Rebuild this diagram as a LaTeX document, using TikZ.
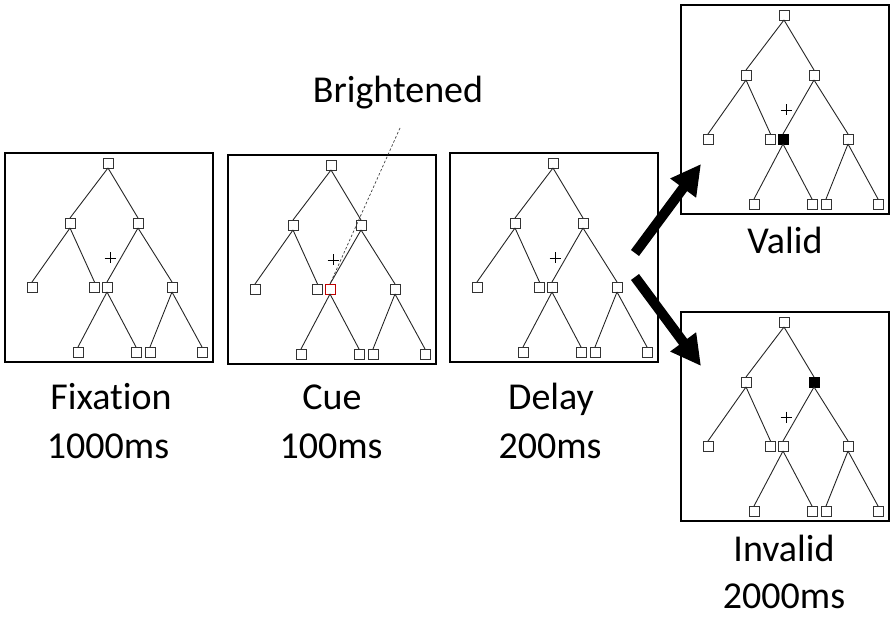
\documentclass[tikz,border=0pt]{standalone}
\usepackage{fontspec}
\setmainfont{Carlito}[Ligatures=NoCommon]
\usetikzlibrary{arrows.meta}
\tikzset{
  sq/.style={draw=black!80, line width=0.9pt, fill=white, minimum size=10pt, inner sep=0pt, outer sep=0pt},
  sqcue/.style={sq, draw=red!75!black, line width=1pt},
  sqfill/.style={sq, fill=black, draw=black},
  edge/.style={draw=black!85, line width=0.9pt},
  panel/.style={draw=black, line width=1.3pt},
  lbl/.style={anchor=base, font=\fontsize{38}{44}\selectfont, inner sep=0pt},
  bigarrow/.style={line width=10pt, -{Triangle[length=30pt,width=30pt]}},
}
\newcommand\treepanel[5]{%
  \begin{scope}[shift={(#2,#3)}]
    \draw[panel] (0,0) rectangle (208,209);
    \node[sq] (#1-r) at (103,10) {};
    \node[sq] (#1-a) at (65,70) {};
    \node[#4] (#1-b) at (133,70) {};
    \node[sq] (#1-c) at (27,134) {};
    \node[sq] (#1-d) at (89.5,134) {};
    \node[#5] (#1-e) at (102,134) {};
    \node[sq] (#1-f) at (167,134) {};
    \node[sq] (#1-g) at (73,199) {};
    \node[sq] (#1-h) at (131,199) {};
    \node[sq] (#1-i) at (145,199) {};
    \node[sq] (#1-j) at (197,199) {};
    \draw[edge] (#1-r.south) -- (#1-a.north);
    \draw[edge] (#1-r.south) -- (#1-b.north);
    \draw[edge] (#1-a.south) -- (#1-c.north);
    \draw[edge] (#1-a.south) -- (#1-d.north);
    \draw[edge] (#1-b.south) -- (#1-e.north);
    \draw[edge] (#1-b.south) -- (#1-f.north);
    \draw[edge] (#1-e.south) -- (#1-g.north);
    \draw[edge] (#1-e.south) -- (#1-h.north);
    \draw[edge] (#1-f.south) -- (#1-i.north);
    \draw[edge] (#1-f.south) -- (#1-j.north);
    \draw[line width=0.8pt] (99.5,105) -- (110.5,105) (105,99.5) -- (105,110.5);
  \end{scope}}
\begin{document}
\begin{tikzpicture}[x=1pt, y=-1pt]
  \useasboundingbox (0,0) rectangle (890,617);
  \treepanel{p1}{5}{153}{sq}{sq}
  \treepanel{p2}{228}{155}{sq}{sqcue}
  \treepanel{p3}{450}{153}{sq}{sq}
  \treepanel{p4}{681}{5}{sq}{sqfill}
  \treepanel{p5}{681}{312}{sqfill}{sq}
  % labels
  \node[lbl] (fix) at (111,409) {Fixation};
  \node[lbl] (fixt) at (108,458) {1000ms};
  \node[lbl] (cue) at (332,409) {Cue};
  \node[lbl] (cuet) at (331,458) {100ms};
  \node[lbl] (del) at (551,409) {Delay};
  \node[lbl] (delt) at (550,458) {200ms};
  \node[lbl] (val) at (785,254) {Valid};
  \node[lbl] (inv) at (784,561) {Invalid};
  \node[lbl] (invt) at (784,608) {2000ms};
  \node[lbl] (bri) at (398,103) {Brightened};
  % dashed pointer
  \coordinate (brt) at (400,128);
  \draw[dash pattern=on 2.5pt off 2pt, line width=0.7pt, black!75] (brt) -- (p2-e.north);
  % arrows
  \coordinate (a1s) at (635,253);
  \coordinate (a1e) at (701,164);
  \coordinate (a2s) at (635,277);
  \coordinate (a2e) at (701,366);
  \draw[bigarrow] (a1s) -- (a1e);
  \draw[bigarrow] (a2s) -- (a2e);
\end{tikzpicture}
\end{document}
